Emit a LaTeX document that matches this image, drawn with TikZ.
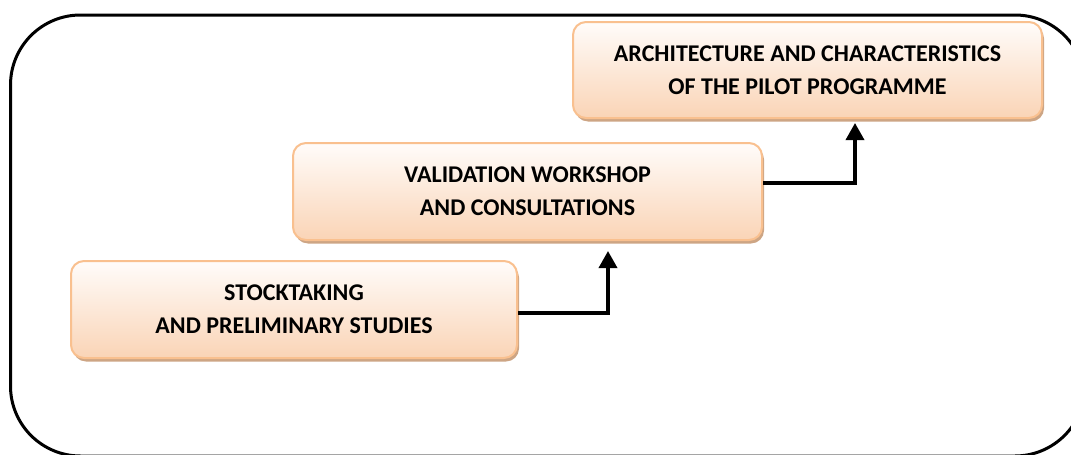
\documentclass[tikz,border=0pt]{standalone}
\usepackage{fontspec}
\setmainfont{Carlito}
\usetikzlibrary{shadows,arrows.meta}
\definecolor{boxborder}{RGB}{249,192,143}
\definecolor{boxtop}{RGB}{255,252,250}
\definecolor{boxbottom}{RGB}{250,212,182}
\definecolor{boxshadow}{RGB}{205,165,132}
\tikzset{
  stagebox/.style={rounded corners=13pt, draw=boxborder, line width=2pt,
    top color=boxtop, bottom color=boxbottom,
    drop shadow={shadow xshift=2pt, shadow yshift=-3.5pt, fill=boxshadow, opacity=1},
    align=center, inner sep=0pt,
    font=\bfseries\fontsize{24}{33}\selectfont},
  stepline/.style={line width=3.5pt, -{Triangle[length=17pt,width=18pt]}},
}
\begin{document}
\begin{tikzpicture}[x=1pt,y=-1pt]
\useasboundingbox (0,0) rectangle (1071,455);
\begin{scope}
\clip (0,0) rectangle (1071,455);
\draw[line width=3pt, rounded corners=70pt] (10.5,15) rectangle (1085,456);
\end{scope}
\node[stagebox, minimum width=446pt, minimum height=97pt] (b1) at (294,309.5)
  {STOCKTAKING\\AND PRELIMINARY STUDIES};
\node[stagebox, minimum width=469pt, minimum height=97pt] (b2) at (527.5,191.5)
  {VALIDATION WORKSHOP\\AND CONSULTATIONS};
\node[stagebox, minimum width=469pt, minimum height=96pt] (b3) at (807.5,70)
  {ARCHITECTURE AND CHARACTERISTICS\\OF THE PILOT PROGRAMME};
\draw[stepline, shorten >=10pt] ([yshift=-3.5pt]b1.east) -| ([xshift=80.5pt]b2.south);
\draw[stepline, shorten >=4pt] ([yshift=8.5pt]b2.east) -| ([xshift=47.5pt]b3.south);
\end{tikzpicture}
\end{document}
